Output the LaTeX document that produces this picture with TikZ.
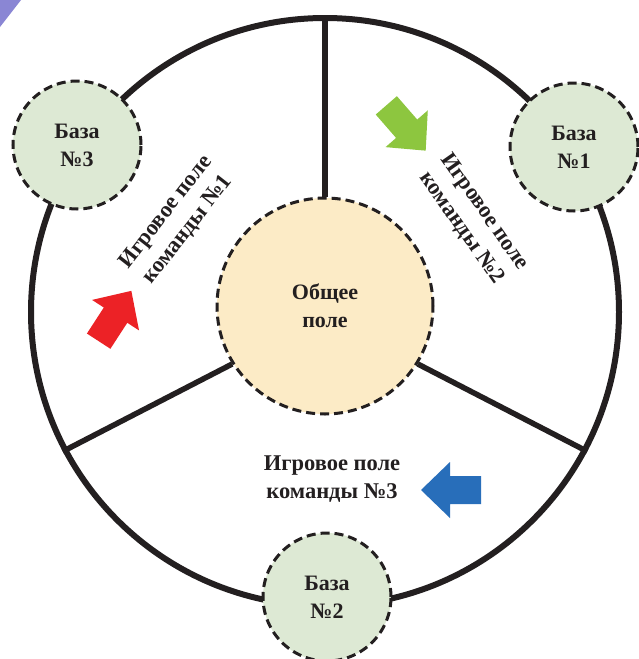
\documentclass[tikz,border=0pt]{standalone}
\usepackage{fontspec}
\setmainfont{Liberation Serif}
\definecolor{basefill}{RGB}{221,233,212}
\definecolor{fieldfill}{RGB}{252,235,198}
\definecolor{inkc}{RGB}{35,31,32}
\definecolor{arrgreen}{RGB}{141,198,63}
\definecolor{arrred}{RGB}{236,34,38}
\definecolor{arrblue}{RGB}{40,110,186}
\definecolor{cornerc}{RGB}{138,134,212}
\tikzset{
  ringstyle/.style={circle, draw=inkc, line width=6pt, minimum size=588pt, inner sep=0pt},
  spoke/.style={draw=inkc, line width=5.5pt},
  dashcirc/.style={circle, draw=inkc, line width=3pt, dash pattern=on 9pt off 5pt, inner sep=0pt, align=center, text=inkc, font=\fontsize{22}{28}\selectfont\bfseries},
  basestyle/.style={dashcirc, fill=basefill, minimum size=128pt},
  fieldstyle/.style={dashcirc, fill=fieldfill, minimum size=216pt},
  labelstyle/.style={align=center, text=inkc, inner sep=0pt, font=\fontsize{22.5}{28}\selectfont\bfseries},
  blockarrow/.pic={\fill[#1] (-30,-14) -- (1,-14) -- (1,-28) -- (30,0) -- (1,28) -- (1,14) -- (-30,14) -- cycle;}
}
\begin{document}
\begin{tikzpicture}[x=1pt, y=-1pt]
\useasboundingbox (0,0) rectangle (639,659);
\fill[white] (0,0) rectangle (639,659);
\fill[cornerc] (0,0) -- (21,0) -- (0,27) -- cycle;
% outer ring
\node[ringstyle] (ring) at (325,312) {};
% common field
\node[fieldstyle] (field) at (325,306) {Общее\\поле};
% spokes
\draw[spoke] (field.90) -- (ring.90);
\draw[spoke] (field.212) -- (ring.208);
\draw[spoke] (field.328) -- (ring.332);
% bases
\node[basestyle] (base3) at (77,145) {База\\№3};
\node[basestyle] (base1) at (574,147) {База\\№1};
\node[basestyle] (base2) at (327,597) {База\\№2};
% team field labels
\node[labelstyle, rotate=52] (team1) at (177,221) {Игровое поле\\команды №1};
\node[labelstyle, rotate=-55] (team2) at (473,220) {Игровое поле\\команды №2};
\node[labelstyle] (team3) at (332,479) {Игровое поле\\команды №3};
% arrows
\pic[rotate=57] at (115,316) {blockarrow=arrred};
\pic[rotate=-49] at (406,128) {blockarrow=arrgreen};
\pic[rotate=180] at (451,490) {blockarrow=arrblue};
\end{tikzpicture}
\end{document}
